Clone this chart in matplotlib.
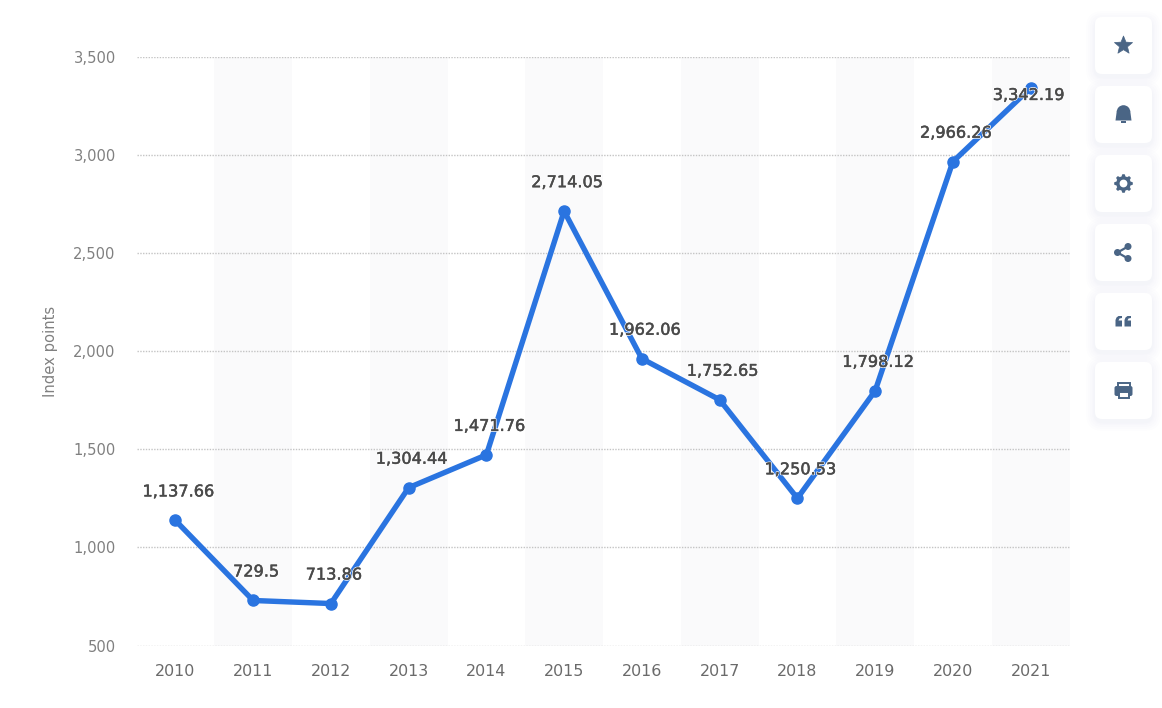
import matplotlib
matplotlib.use("Agg")
import matplotlib.pyplot as plt
import matplotlib.patheffects as pe
from matplotlib.patches import FancyBboxPatch, Rectangle, Circle, Polygon, Wedge
from matplotlib.ticker import FuncFormatter
import numpy as np

years = ["2010","2011","2012","2013","2014","2015","2016","2017","2018","2019","2020","2021"]
values = [1137.66,729.5,713.86,1304.44,1471.76,2714.05,1962.06,1752.65,1250.53,1798.12,2966.26,3342.19]
labels = ["1,137.66","729.5","713.86","1,304.44","1,471.76","2,714.05","1,962.06","1,752.65","1,250.53","1,798.12","2,966.26","3,342.19"]
y_ticks = [500,1000,1500,2000,2500,3000,3500]
y_title = "Index points"

W,H = 1162,708
plt.rcParams['font.family'] = ['DejaVu Sans']
fig = plt.figure(figsize=(W/100,H/100),dpi=100,facecolor='white')
ax = fig.add_axes([136.5/W,1-645.5/H,(1069.5-136.5)/W,(645.5-57)/H])
ax.set_xlim(-0.5,11.5); ax.set_ylim(500,3500)
x = np.arange(len(years))
for i in x[1::2]:
    ax.axvspan(i-0.5,i+0.5,color='#fafafb',lw=0,zorder=0)
ax.set_yticks(y_ticks)
ax.yaxis.set_major_formatter(FuncFormatter(lambda v,p:f"{int(v):,}"))
ax.set_xticks(x); ax.set_xticklabels(years)
ax.grid(axis='y',color='#c4c4c4',lw=1,ls=(0,(1,1)),zorder=1)
ax.set_axisbelow(True)
for s in ax.spines.values(): s.set_visible(False)
ax.tick_params(length=0)
ax.tick_params(axis='y',pad=15,labelsize=10.6,labelcolor='#808080')
ax.tick_params(axis='x',pad=13,labelsize=11.4,labelcolor='#6a6a6a')
ax.plot(x,values,color='#2a74e0',lw=3.9,marker='o',ms=8,solid_capstyle='round',solid_joinstyle='round',zorder=3,clip_on=False)
stroke = [pe.Stroke(linewidth=1.4,foreground='white'),pe.Stroke(linewidth=0.35,foreground='#4a4a4a'),pe.Normal()]
n = len(values)
for xi,v,l in zip(x,values,labels):
    # the top label sits below its point, as the chart library pushes it inside the plot
    off = (-2,-6) if xi==n-1 else (3,30)
    t = ax.annotate(l,(xi,v),xytext=off,textcoords='offset pixels',ha='center',va='center_baseline',
                fontsize=11.6,color='#4a4a4a',zorder=4,annotation_clip=False)
    t.set_path_effects(stroke)
fig.text(51/W,1-351.5/H,y_title,rotation=90,ha='center',va='center',fontsize=10.6,color='#808080')

ov = fig.add_axes([0,0,1,1],zorder=10)
ov.set_xlim(0,W); ov.set_ylim(H,0); ov.axis('off'); ov.patch.set_alpha(0)
ic = '#4a6585'
cx = 1123.5
centers = [45.5,114.5,183.5,252.5,321.5,390.5]
for cy in centers:
    for g,a in [(9,0.006),(7,0.007),(5,0.008),(3,0.009),(1.5,0.01)]:
        ov.add_patch(FancyBboxPatch((cx-28.5-g,cy-28.5-g+3),57+2*g,57+2*g,boxstyle=f"round,pad=0,rounding_size={8+g}",fc='#3c5a80',ec='none',alpha=a))
for cy in centers:
    ov.add_patch(FancyBboxPatch((cx-28.5,cy-28.5),57,57,boxstyle="round,pad=0,rounding_size=7",fc='white',ec='none'))
# star
cy=45.5
ang = np.deg2rad(np.arange(0,360,36)-90)
r = np.where(np.arange(10)%2==0,9.5,4.2)
ov.add_patch(Polygon(np.c_[cx+r*np.cos(ang),cy+r*np.sin(ang)],fc=ic,ec=ic,lw=0.5,joinstyle='round'))
# bell
cy=114.5
ov.add_patch(Wedge((cx,cy-2.5),6.8,180,360,fc=ic,ec='none'))
ov.add_patch(Polygon([(cx-6.8,cy-3),(cx+6.8,cy-3),(cx+8,cy+6),(cx-8,cy+6)],fc=ic,ec='none'))
ov.add_patch(Rectangle((cx-2.5,cy+6.8),5,1.5,fc=ic,ec='none'))
# gear
cy=183.5
ang = np.deg2rad(np.linspace(0,360,145))
rr = 8.3+1.0*np.clip(np.cos(8*ang)*2,-1,1)
ov.add_patch(Polygon(np.c_[cx+rr*np.cos(ang),cy+rr*np.sin(ang)],fc=ic,ec='none'))
ov.add_patch(Circle((cx,cy),3.9,fc='white',ec='none'))
# share
cy=252.5
pts=[(cx-6,cy),(cx+4.5,cy-6),(cx+4.5,cy+6)]
ov.plot([pts[1][0],pts[0][0],pts[2][0]],[pts[1][1],pts[0][1],pts[2][1]],color=ic,lw=1.6)
for p in pts: ov.add_patch(Circle(p,3.5,fc=ic,ec='none'))
# quote
cy=321.5
for dx in (-8,1):
    ov.add_patch(Polygon([(cx+dx,cy+5),(cx+dx,cy-1.5),(cx+dx+1,cy-4),(cx+dx+3,cy-5.5),(cx+dx+6.5,cy-5.5),(cx+dx+6.5,cy-3.5),(cx+dx+4,cy-3),(cx+dx+3,cy-1),(cx+dx+6.5,cy-1),(cx+dx+6.5,cy+5)],fc=ic,ec='none'))
# printer
cy=390.5
ov.add_patch(FancyBboxPatch((cx-9,cy-4.5),18,10,boxstyle="round,pad=0,rounding_size=2",fc=ic,ec='none'))
ov.add_patch(Rectangle((cx-6,cy-8),12,4,fc='white',ec=ic,lw=1.4))
ov.add_patch(Rectangle((cx-5,cy+1),10,6.5,fc='white',ec=ic,lw=1.4))
fig.savefig('out.png',dpi=100)
